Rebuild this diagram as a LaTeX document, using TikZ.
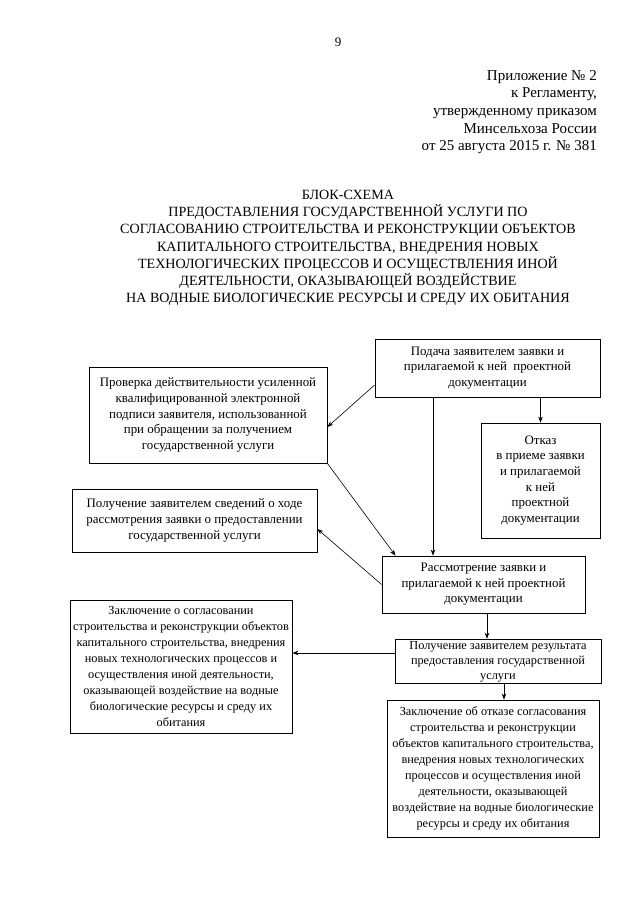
\documentclass[tikz,border=0pt]{standalone}
\usepackage{fontspec}
\setmainfont{Liberation Serif}
\usepackage{tikz}
\usetikzlibrary{positioning,arrows.meta}
\tikzset{
  blok/.style={draw, line width=0.8pt, align=center, inner sep=2pt, font=\fontsize{12.9}{15.6}\selectfont},
  bloksmall/.style={blok, font=\fontsize{12.3}{15.9}\selectfont},
  arrow/.style={->, >={Stealth[length=6pt,width=4.5pt]}, line width=0.6pt},
  caption/.style={align=center, inner sep=0pt}
}
\begin{document}
\begin{tikzpicture}[x=1pt,y=-1pt]
  \useasboundingbox (0,0) rectangle (640,905);
  % page heading
  \node[caption, font=\fontsize{13}{15}\selectfont] (page) at (338,42) {9};
  \node[caption, align=right, anchor=north east, font=\fontsize{15}{17.7}\selectfont] (prilozh) at (597,70)
    {Приложение № 2\\к Регламенту,\\утвержденному приказом\\Минсельхоза России\\от 25 августа 2015 г. № 381};
  \node[caption, anchor=north, font=\fontsize{14.1}{17.2}\selectfont] (title) at (348,190)
    {БЛОК-СХЕМА\\ПРЕДОСТАВЛЕНИЯ ГОСУДАРСТВЕННОЙ УСЛУГИ ПО\\СОГЛАСОВАНИЮ СТРОИТЕЛЬСТВА И РЕКОНСТРУКЦИИ ОБЪЕКТОВ\\КАПИТАЛЬНОГО СТРОИТЕЛЬСТВА, ВНЕДРЕНИЯ НОВЫХ\\ТЕХНОЛОГИЧЕСКИХ ПРОЦЕССОВ И ОСУЩЕСТВЛЕНИЯ ИНОЙ\\ДЕЯТЕЛЬНОСТИ, ОКАЗЫВАЮЩЕЙ ВОЗДЕЙСТВИЕ\\НА ВОДНЫЕ БИОЛОГИЧЕСКИЕ РЕСУРСЫ И СРЕДУ ИХ ОБИТАНИЯ};
  % blocks
  \node[blok, minimum width=225pt, minimum height=58pt] (podacha) at (487.5,368)
    {Подача заявителем заявки и\\прилагаемой к ней\ \ проектной\\документации};
  \node[blok, minimum width=238pt, minimum height=96pt] (proverka) at (208,415)
    {Проверка действительности усиленной\\квалифицированной электронной\\подписи заявителя, использованной\\при обращении за получением\\государственной услуги};
  \node[blok, minimum width=119pt, minimum height=115pt] (otkaz) at (540.5,480.5)
    {Отказ\\в приеме заявки\\и прилагаемой\\к ней\\проектной\\документации};
  \node[blok, minimum width=245pt, minimum height=63pt] (svedenia) at (194.5,520.5)
    {Получение заявителем сведений о ходе\\рассмотрения заявки о предоставлении\\государственной услуги};
  \node[blok, minimum width=203pt, minimum height=57pt] (rassm) at (483.5,584.5)
    {Рассмотрение заявки и\\прилагаемой к ней проектной\\документации};
  \node[bloksmall, font=\fontsize{12.3}{15}\selectfont, minimum width=206pt, minimum height=43pt] (rezult) at (498,661.5)
    {Получение заявителем результата\\предоставления государственной\\услуги};
  \node[bloksmall, minimum width=222pt, minimum height=133pt] (soglas) at (181,666.5)
    {Заключение о согласовании\\строительства и реконструкции объектов\\капитального строительства, внедрения\\новых технологических процессов и\\осуществления иной деятельности,\\оказывающей воздействие на водные\\биологические ресурсы и среду их\\обитания};
  \node[bloksmall, minimum width=212pt, minimum height=137pt] (otkazzakl) at (493,768.5)
    {Заключение об отказе согласования\\строительства и реконструкции\\объектов капитального строительства,\\внедрения новых технологических\\процессов и осуществления иной\\деятельности, оказывающей\\воздействие на водные биологические\\ресурсы и среду их обитания};
  % connectors
  \draw[arrow] ([yshift=-17pt]podacha.west) -- ([yshift=-12pt]proverka.east);
  \draw[arrow] (podacha.south -| otkaz.north) -- (otkaz.north);
  \draw[arrow] ([xshift=-54.5pt]podacha.south) -- ([xshift=-54.5pt]podacha.south |- rassm.north);
  \draw[arrow] (proverka.south east) -- ([xshift=-88pt]rassm.north);
  \draw[arrow] (rassm.west) -- ([yshift=-8.5pt]svedenia.east);
  \draw[arrow] ([xshift=3.5pt]rassm.south) -- ([xshift=3.5pt]rassm.south |- rezult.north);
  \draw[arrow] ([yshift=8.5pt]rezult.west) -- ([yshift=8.5pt]rezult.west -| soglas.east);
  \draw[arrow] ([xshift=6pt]rezult.south) -- ([xshift=6pt]rezult.south |- otkazzakl.north);
\end{tikzpicture}
\end{document}
